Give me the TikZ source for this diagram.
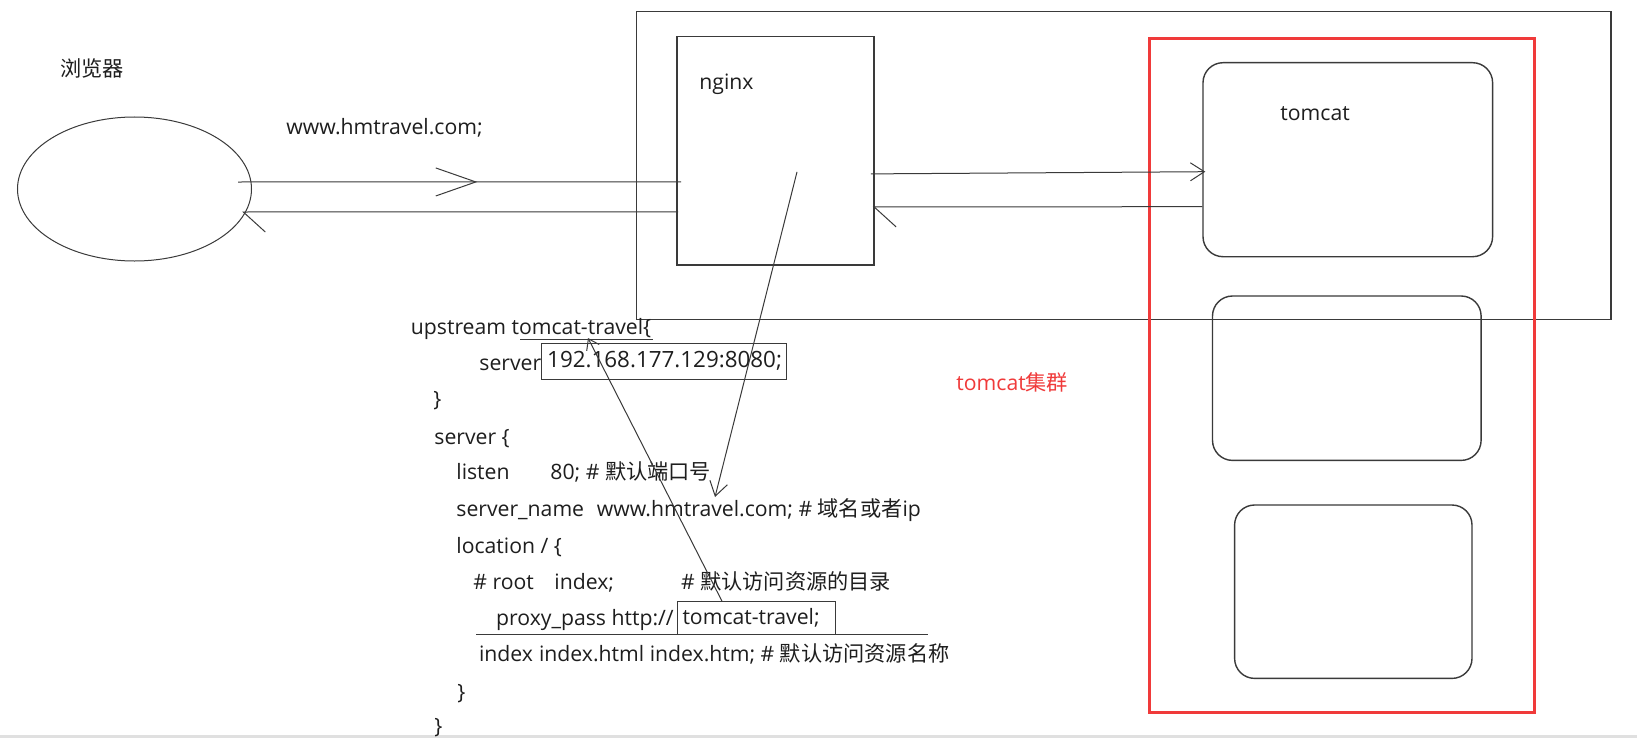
\documentclass[tikz,border=0pt]{standalone}
\usepackage{fontspec}
\setmainfont{Open Sans}
\newfontfamily\cjk{Noto Sans CJK SC}
\usepackage{tikz}
\usetikzlibrary{arrows.meta,positioning,calc,shapes.geometric,decorations.markings}
\definecolor{inkGray}{HTML}{3A3A3A}
\definecolor{textGray}{HTML}{1E1E1E}
\definecolor{clusterRed}{HTML}{F03A3A}

\begin{document}
\begin{tikzpicture}[x=0.5pt,y=-0.5pt,font=\fontsize{10.6}{13}\selectfont,
  >={Straight Barb[length=7pt,width=9pt]},
  wire/.style={draw=inkGray,line width=0.5pt},
  box/.style={draw=inkGray,line width=0.7pt,inner sep=0pt},
  tomcatbox/.style={box,rounded corners=10pt},
  code/.style={anchor=base west,inner sep=0pt,text=textGray},
  hilite/.style={draw=inkGray,line width=0.5pt,anchor=west,inner ysep=0pt,inner xsep=3pt,align=left,text=textGray},
  back/.style={-{Straight Barb[harpoon,length=11pt,width=20pt]}}]
\path[use as bounding box,fill=white] (0,0) rectangle (1637,738);
\fill[black!12] (0,735) rectangle (1637,738);

\node[box,ellipse,line width=0.5pt,minimum width=117pt,minimum height=72pt] (browser) at (134.5,189) {};
\node[code] (browserlbl) at (60,76) {\cjk 浏览器};
\node[code] (url) at (286,134) {www.hmtravel.com;};

\node[box,minimum width=487.2pt,minimum height=153.8pt] (host) at (1123.6,165.5) {};
\node[box,minimum width=98.6pt,minimum height=114.2pt] (nginx) at (775.5,150.9) {};
\node[code] (nginxlbl) at (699,90) {nginx};
\node[tomcatbox,minimum width=144.8pt,minimum height=97pt] (tc1) at (1347.8,159.7) {};
\node[code] (tomcatlbl) at (1280,120) {tomcat};
\node[tomcatbox,minimum width=134.3pt,minimum height=82.2pt] (tc2) at (1346.8,378.2) {};
\node[tomcatbox,minimum width=118.7pt,minimum height=86.7pt] (tc3) at (1353.3,591.7) {};
\node[draw=clusterRed,line width=1.5pt,inner sep=0pt,minimum width=192.8pt,minimum height=337pt] (cluster) at (1341.8,375.3) {};
\node[code,text=clusterRed] (clusterlbl) at (956,390) {tomcat{\cjk 集群}};

\node[code] (up) at (410.5,334) {upstream tomcat-travel\{};
\node[code] (srv) at (479,370) {server};
\node[hilite,font=\fontsize{11.2}{14}\selectfont,text width=116.5pt,minimum height=17.8pt] (ip) at (540.7,361.2) {192.168.177.129:8080;};
\node[code] (upend) at (433,406) {\}};
\node[code] (vhost) at (434,444) {server \{};
\node[code] (listen) at (456,479) {\makebox[47pt][l]{listen}80; \# {\cjk 默认端口号}};
\node[code] (sname) at (456,516) {\makebox[70.2pt][l]{server\_name}www.hmtravel.com; \# {\cjk 域名或者}ip};
\node[code] (loc) at (456,553) {location / \{};
\node[code] (root) at (473,589) {\makebox[40.5pt][l]{\# root}\makebox[63.3pt][l]{index;}\# {\cjk 默认访问资源的目录}};
\node[code] (proxy) at (495.8,625) {proxy\_pass http://};
\node[hilite,inner xsep=2.5pt,text width=74.2pt,minimum height=16.2pt] (pass) at (677,617.9) {tomcat-travel;};
\node[code] (idx) at (478.7,661) {\makebox[30pt][l]{index}index.html index.htm; \# {\cjk 默认访问资源名称}};
\node[code] (locend) at (457,699) {\}};
\node[code] (vhostend) at (434,733) {\}};
\draw[wire] (520,339) -- (653,339);
\draw[wire] (476,634) -- (928,634);

\draw[wire,postaction={decorate},decoration={markings,mark=at position 0.54 with {\arrow{Straight Barb[length=20pt,width=14pt]}}}] ($(browser.east)+(-14,-7)$) -- ($(nginx.west)+(5,31)$);
\draw[wire,back] ($(nginx.west)+(2,61)$) -- ($(browser.east)+(-10,23)$);
\draw[wire,->] ($(nginx.east)+(-4,23)$) -- ($(tc1.west)+(3,12)$);
\draw[wire,back] ($(tc1.west)+(0,47)$) -- ($(nginx.east)+(-2,56)$);
\coordinate (domain) at (715,497);
\coordinate (upname) at (588,338);
\draw[wire,->] ($(nginx.center)+(21.5,21)$) -- (domain);
\draw[wire,-{Straight Barb[length=5pt,width=7pt]}] ($(pass.north west)+(45,0)$) -- (upname);
\end{tikzpicture}
\end{document}
